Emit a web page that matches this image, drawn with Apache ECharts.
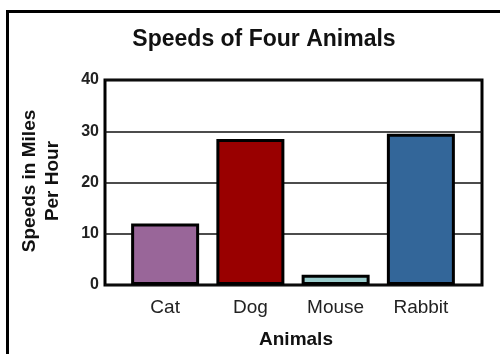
<!DOCTYPE html>
<html>
<head>
<meta charset="utf-8">
<script src="https://cdn.jsdelivr.net/npm/echarts@6/dist/echarts.min.js"></script>
<style>
  html, body { margin: 0; padding: 0; background: #fff; }
  #chart { width: 500px; height: 354px; }
</style>
</head>
<body>
<div id="chart"></div>
<script>
// Chart data
const animals = ['Cat', 'Dog', 'Mouse', 'Rabbit'];
const speeds = [12, 28.5, 2, 29.5];
const barColors = ['#996699', '#990000', '#99cccc', '#336699'];
const yTicks = [0, 10, 20, 30, 40];

const chartTitle = 'Speeds of Four Animals';
const yName = 'Speeds in Miles\nPer Hour';
const xName = 'Animals';

const FONT = '"Liberation Sans", Arial, Helvetica, sans-serif';
const yMin = yTicks[0];
const yMax = yTicks[yTicks.length - 1];
const yStep = yTicks[1] - yTicks[0];

const chart = echarts.init(document.getElementById('chart'), null, { renderer: 'canvas' });

chart.setOption({
  animation: false,
  backgroundColor: '#ffffff',
  graphic: [
    {
      type: 'rect',
      shape: { x: 7.5, y: 11.5, width: 620, height: 420 },
      style: { fill: 'none', stroke: '#000', lineWidth: 3 },
      z: 10
    },
    {
      type: 'text',
      x: 264,
      y: 40,
      style: {
        text: chartTitle, fontFamily: FONT, fontSize: 23, fontWeight: 'bold',
        fill: '#111', textAlign: 'center', textVerticalAlign: 'middle'
      }
    },
    {
      type: 'text',
      x: 296,
      y: 340,
      style: {
        text: xName, fontFamily: FONT, fontSize: 19, fontWeight: 'bold',
        fill: '#111', textAlign: 'center', textVerticalAlign: 'middle'
      }
    },
    {
      type: 'text',
      x: 41,
      y: 181,
      rotation: Math.PI / 2,
      style: {
        text: yName, fontFamily: FONT, fontSize: 19, fontWeight: 'bold',
        fill: '#111', textAlign: 'center', textVerticalAlign: 'middle', lineHeight: 23
      }
    }
  ],
  grid: [
    // frame with value gridlines
    { left: 105, top: 80, width: 377, height: 205, show: true, borderColor: '#000', borderWidth: 3, backgroundColor: 'transparent' },
    // bars
    { left: 122.5, top: 80, width: 341, height: 205 }
  ],
  xAxis: [
    {
      type: 'category', gridIndex: 0, data: animals, show: false
    },
    {
      type: 'category', gridIndex: 1, data: animals,
      axisLine: { show: false },
      axisTick: { show: false },
      axisLabel: { margin: 13, fontFamily: FONT, fontSize: 19, color: '#222' }
    }
  ],
  yAxis: [
    {
      type: 'value', gridIndex: 0, min: yMin, max: yMax, interval: yStep,
      axisLine: { show: false },
      axisTick: { show: false },
      axisLabel: { margin: 6, fontFamily: FONT, fontSize: 16, fontWeight: 'bold', color: '#222' },
      splitLine: { show: true, lineStyle: { color: '#111', width: 1.5 } }
    },
    {
      type: 'value', gridIndex: 1, min: yMin, max: yMax, interval: yStep, show: false,
      splitLine: { show: false }
    }
  ],
  series: [
    {
      type: 'bar',
      xAxisIndex: 1,
      yAxisIndex: 1,
      barWidth: 68,
      data: speeds.map((v, i) => ({
        value: v,
        itemStyle: { color: barColors[i], borderColor: '#000', borderWidth: 3 }
      })),
      z: 3
    }
  ]
});
</script>
</body>
</html>
